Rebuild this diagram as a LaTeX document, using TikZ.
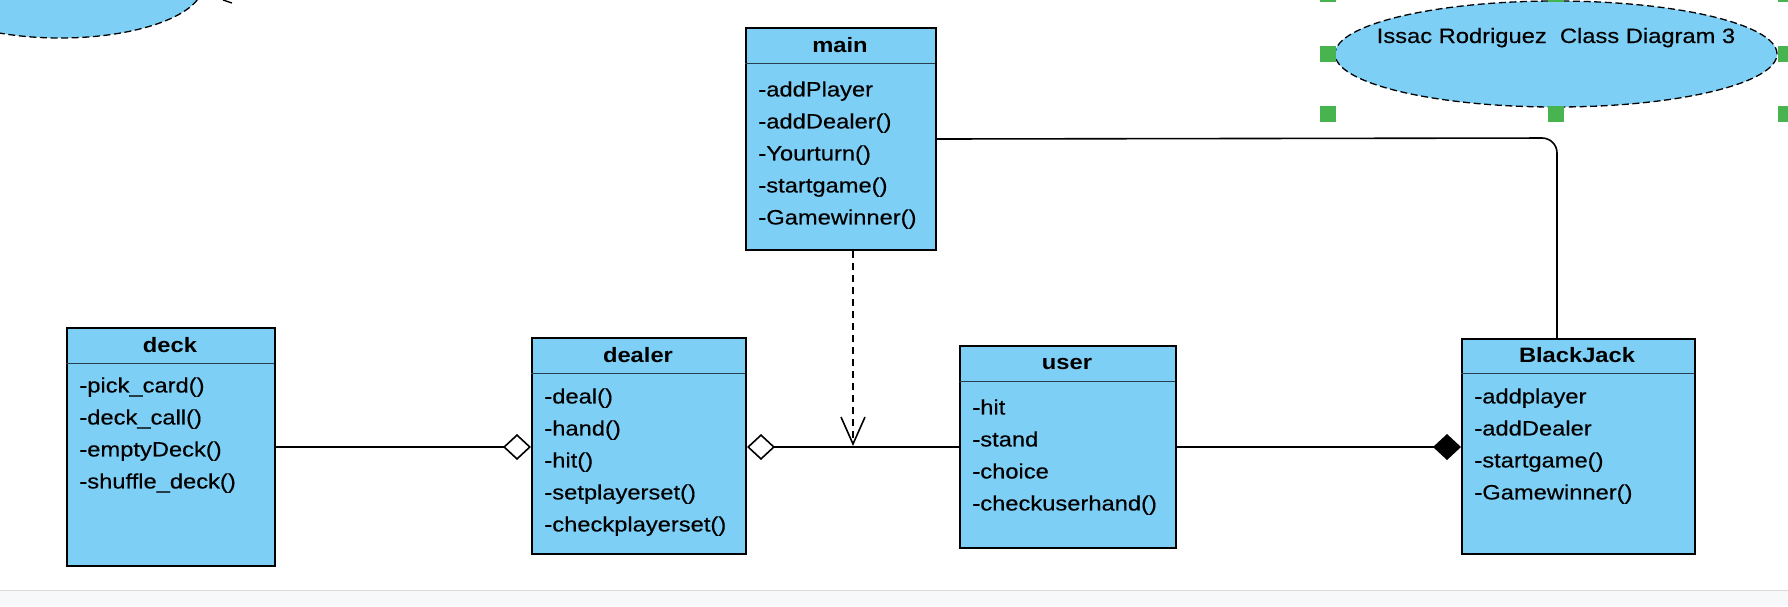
\documentclass[tikz,border=0pt]{standalone}
\usepackage{fontspec}
\setmainfont{Liberation Sans}[FakeStretch=1.14, UprightFeatures={FakeBold=0.35}]
\usetikzlibrary{arrows.meta, positioning, calc, shapes.geometric}
\definecolor{umlbiru}{RGB}{126,207,245}
\definecolor{garisbiru}{RGB}{38,62,78}
\definecolor{pegangan}{RGB}{72,180,80}
\definecolor{panelabu}{RGB}{247,248,250}
\definecolor{garisabu}{RGB}{214,216,220}

\begin{document}
\begin{tikzpicture}[x=0.5pt, y=-0.5pt, font=\fontsize{10.4}{16}\selectfont,
        classbox/.style={draw=black, line width=1pt, fill=umlbiru, anchor=north west, inner sep=0pt},
        sepline/.style={draw=garisbiru, line width=0.5pt},
        title/.style={anchor=base, inner sep=0pt, font=\bfseries\fontsize{10.4}{16}\selectfont},
        members/.style={anchor=north west, align=left, inner sep=0pt},
        link/.style={draw=black, line width=0.8pt},
        note/.style={ellipse, draw=black, line width=0.65pt, dash pattern=on 3.5pt off 1.8pt,
                     fill=umlbiru, inner sep=0pt}
    ]
        \useasboundingbox (0,0) rectangle (1788,606);
        \clip (0,0) rectangle (1788,606);

        % bottom panel
        \fill[panelabu] (0,591) rectangle (1788,606);
        \draw[garisabu, line width=0.9pt] (0,590.5) -- (1788,590.5);

        % notes
        \node[note, minimum width=143pt, minimum height=53pt] (oldnote) at (60,-15) {};
        \draw[line width=0.7pt] (223,0) -- (232,3);
        \node[note, minimum width=221pt, minimum height=53pt] (credit) at (1556,54) {};
        \node[anchor=base, inner sep=0pt] (credittext) at (1556,43) {Issac Rodriguez~ Class Diagram 3};
        \foreach \hx/\hy in {1328/-6, 1556/-6, 1786/-6, 1328/54, 1786/54, 1328/114, 1556/114, 1786/114}
            \fill[pegangan] (\hx-8,\hy-8) rectangle (\hx+8,\hy+8);

        % classes
        \node[classbox, minimum width=104pt, minimum height=119pt] (deck) at (66,327) {};
        \draw[sepline] (66,363) -- (274,363);
        \node[title] (decktitle) at (170,352) {deck};
        \node[members] (deckitems) at (79,377)
            {-pick\_card()\\-deck\_call()\\-emptyDeck()\\-shuffle\_deck()};

        \node[classbox, minimum width=107pt, minimum height=108pt] (dealer) at (531,337) {};
        \draw[sepline] (531,373) -- (745,373);
        \node[title] (dealertitle) at (638,362) {dealer};
        \node[members] (dealeritems) at (544,388)
            {-deal()\\-hand()\\-hit()\\-setplayerset()\\-checkplayerset()};

        \node[classbox, minimum width=95pt, minimum height=111pt] (main) at (745,27) {};
        \draw[sepline] (745,63) -- (935,63);
        \node[title] (maintitle) at (840,52) {main};
        \node[members] (mainitems) at (758,81)
            {-addPlayer\\-addDealer()\\-Yourturn()\\-startgame()\\-Gamewinner()};

        \node[classbox, minimum width=108pt, minimum height=101pt] (user) at (959,345) {};
        \draw[sepline] (959,381) -- (1175,381);
        \node[title] (usertitle) at (1067,369) {user};
        \node[members] (useritems) at (972,399)
            {-hit\\-stand\\-choice\\-checkuserhand()};

        \node[classbox, minimum width=116.5pt, minimum height=107.5pt] (blackjack) at (1461,338) {};
        \draw[sepline] (1461,373) -- (1694,373);
        \node[title] (blackjacktitle) at (1577,362) {BlackJack};
        \node[members] (blackjackitems) at (1474,388)
            {-addplayer\\-addDealer\\-startgame()\\-Gamewinner()};

        % relations
        \coordinate (join) at (853,446);
        \coordinate (bend) at (1557,138);
        \draw[link, -{Diamond[length=14pt, width=13pt, fill=white]}] (deck.east) -- (deck.east -| dealer.west);
        \draw[link, -{Diamond[length=14pt, width=13pt, fill=white]}] (user.west) -- (user.west -| dealer.east);
        \draw[link, dash pattern=on 3.5pt off 2.5pt, -{Straight Barb[length=13.5pt, width=12pt]}]
            (main.south -| join) -- (join);
        \draw[link, -{Diamond[length=14pt, width=13pt]}] (user.east) -- (user.east -| blackjack.west);
        \draw[link, rounded corners=7.5pt] (main.east) -- (bend) -- (bend |- blackjack.north);
    \end{tikzpicture}
\end{document}
